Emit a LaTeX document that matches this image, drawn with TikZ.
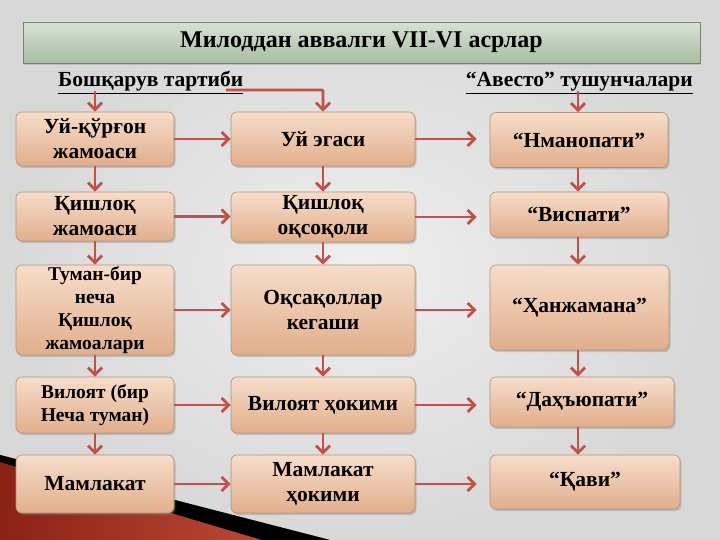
\documentclass[tikz,border=0pt]{standalone}
\usepackage{fontspec}
\setmainfont{Liberation Serif}
\usetikzlibrary{arrows.meta,shadows}
\definecolor{bgin}{HTML}{EFEFEF}
\definecolor{bgout}{HTML}{D8D8D8}
\definecolor{boxtop}{HTML}{F7DDCB}
\definecolor{boxbot}{HTML}{E1AE8C}
\definecolor{boxline}{HTML}{B49277}
\definecolor{arrc}{HTML}{C0524A}
\definecolor{ttop}{HTML}{D8E2D5}
\definecolor{tbot}{HTML}{A9BDA4}
\definecolor{redL}{HTML}{8A2216}
\definecolor{redR}{HTML}{C8513C}
\begin{document}
\begin{tikzpicture}[x=1pt,y=-1pt,
  box/.style={draw=boxline, line width=0.6pt, rounded corners=6pt,
    top color=boxtop, bottom color=boxbot,
    drop shadow={opacity=0.35, shadow xshift=1.5pt, shadow yshift=-2pt},
    font=\bfseries\fontsize{21.5}{25}\selectfont, align=center, inner sep=1pt},
  small/.style={font=\bfseries\fontsize{19.5}{23}\selectfont},
  hdr/.style={font=\bfseries\fontsize{21.5}{25}\selectfont, inner sep=0pt},
  arr/.style={draw=arrc, line width=2.8pt, -{Straight Barb[length=7pt,width=14pt]}}]
\useasboundingbox (0,0) rectangle (720,540);
\shade[inner color=bgin, outer color=bgout] (0,0) rectangle (720,540);
% bottom-left decoration
\shade[left color=redL, right color=redR] (0,455) -- (330,540) -- (0,540) -- cycle;
\fill[black] (0,455) -- (330,540) -- (262,540) -- (0,462) -- cycle;
% title
\node[draw=tbot!70!black, line width=0.4pt, top color=ttop, bottom color=tbot,
  drop shadow={opacity=0.3, shadow xshift=1pt, shadow yshift=-2pt},
  minimum width=677pt, minimum height=41pt,
  font=\bfseries\fontsize{24}{28}\selectfont] (title) at (361.5,42.5) {Милоддан аввалги VII-VI асрлар};
% headers
\node[hdr, anchor=base west] (hL) at (58,87) {\underline{Бошқарув тартиби}};
\node[hdr, anchor=base east] (hR) at (693,87) {\underline{“Авесто” тушунчалари}};
% column 1
\node[box, minimum width=158pt, minimum height=54pt] (a1) at (95,139) {Уй-қўрғон\\жамоаси};
\node[box, minimum width=158pt, minimum height=49pt] (a2) at (95,216.5) {Қишлоқ\\жамоаси};
\node[box, small, minimum width=158pt, minimum height=90pt] (a3) at (95,310) {Туман-бир\\неча\\Қишлоқ\\жамоалари};
\node[box, small, minimum width=158pt, minimum height=56pt] (a4) at (95,405) {Вилоят (бир\\Неча туман)};
\node[box, minimum width=158pt, minimum height=58pt] (a5) at (95,484) {Мамлакат};
% column 2
\node[box, minimum width=184pt, minimum height=54pt] (b1) at (323,139) {Уй эгаси};
\node[box, minimum width=184pt, minimum height=50pt] (b2) at (323,217) {Қишлоқ\\оқсоқоли};
\node[box, minimum width=184pt, minimum height=90pt] (b3) at (323,310) {Оқсақоллар\\кегаши};
\node[box, minimum width=184pt, minimum height=56pt] (b4) at (323,405) {Вилоят ҳокими};
\node[box, minimum width=184pt, minimum height=58pt] (b5) at (323,484) {Мамлакат\\ҳокими};
% column 3
\node[box, minimum width=178pt, minimum height=55pt] (c1) at (579,140) {“Нманопати”};
\node[box, minimum width=178pt, minimum height=45pt] (c2) at (579,214.5) {“Виспати”};
\node[box, minimum width=179pt, minimum height=85pt] (c3) at (579.5,307.5) {“Ҳанжамана”};
\node[box, minimum width=184pt, minimum height=50pt] (c4) at (582,402) {“Даҳъюпати”};
\node[box, minimum width=190pt, minimum height=54pt] (c5) at (585,482) {“Қави”};
% header connectors
\coordinate (hLa) at (95,91);
\coordinate (hLb) at (226,90);
\coordinate (hRa) at (578,91);
\draw[arr] (hLa) -- (hLa |- a1.north);
\draw[arr, rounded corners=1pt] (hLb) -- (hLb -| b1.north) -- (b1.north);
\draw[arr] (hRa) -- (hRa |- c1.north);
% vertical connectors
\foreach \u/\v in {a1/a2,a2/a3,a3/a4,a4/a5,b1/b2,b2/b3,b3/b4,b4/b5}
  \draw[arr] (\u.south) -- (\v.north);
\foreach \u/\v in {c1/c2,c2/c3,c3/c4,c4/c5}
  \draw[arr] ([xshift=-1pt]\u.south -| c1.south) -- ([xshift=-1pt]\v.north -| c1.south);
% horizontal connectors
\foreach \u/\v in {a1/b1,a2/b2,a3/b3,a4/b4,a5/b5}
  \draw[arr] (\u.east) -- (\v.west |- \u.east);
\foreach \u/\v in {b1/c1,b2/c2,b3/c3,b4/c4,b5/c5}
  \draw[arr, shorten >=13pt] (\u.east) -- (\v.west |- \u.east);
\end{tikzpicture}
\end{document}
